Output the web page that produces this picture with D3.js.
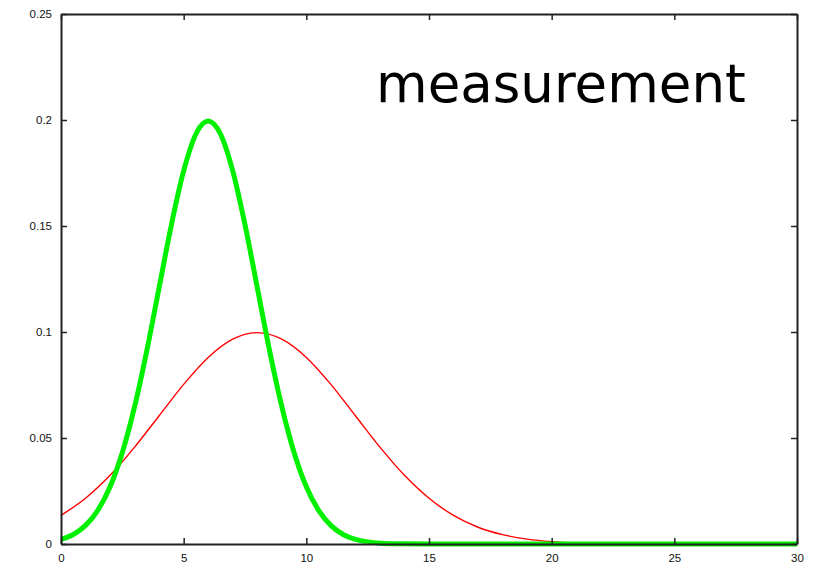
<!DOCTYPE html>
<html>
<head>
<meta charset="utf-8">
<script src="https://cdn.jsdelivr.net/npm/d3@7"></script>
<style>
  body { margin: 0; background: #fff; }
  svg { display: block; }
</style>
</head>
<body>
<svg id="chart"></svg>
<script>
// values
const redX = [0,1,2,3,4,5,6,7,8,9,10,11,12,13,14,15,16,17,18,19,20,21,22,23,24,25,26,27,28,29,30];
const redY = [0.0135,0.0216,0.0324,0.0457,0.0605,0.0753,0.0880,0.0966,0.0997,0.0966,0.0880,0.0753,0.0605,0.0457,0.0324,0.0216,0.0135,0.0079,0.0044,0.0023,0.0011,0.0005,0.0002,0.0001,0,0,0,0,0,0,0];

const greenX = [0,0.5,1,1.5,2,2.5,3,3.5,4,4.5,5,5.5,6,6.5,7,7.5,8,8.5,9,9.5,10,10.5,11,11.5,12,12.5,13,14,15,20,25,30];
const greenY = [0.0022,0.0045,0.0088,0.0159,0.0270,0.0432,0.0648,0.0913,0.1210,0.1506,0.1760,0.1934,0.1995,0.1934,0.1760,0.1506,0.1210,0.0913,0.0648,0.0432,0.0270,0.0159,0.0088,0.0045,0.0022,0.0010,0.0004,0.0001,0,0,0,0];

const xTicks = [0,5,10,15,20,25,30];
const yTicks = [0,0.05,0.1,0.15,0.2,0.25];
const yTickLabels = ["0","0.05","0.1","0.15","0.2","0.25"];
const noteText = "measurement";

const W = 817, H = 568;
const margin = {left: 61, right: 20, top: 14, bottom: 24};
const width = W - margin.left - margin.right;
const height = H - margin.top - margin.bottom;

const svg = d3.select("#chart").attr("width", W).attr("height", H);
const g = svg.append("g").attr("transform", "translate(" + margin.left + "," + margin.top + ")");

const x = d3.scaleLinear().domain([0, 30]).range([0, width]);
const y = d3.scaleLinear().domain([0, 0.25]).range([height, 0]);

// curves
const line = d3.line().x(d => x(d[0])).y(d => y(d[1])).curve(d3.curveMonotoneX);

g.append("path")
  .datum(redX.map((v, i) => [v, redY[i]]))
  .attr("fill", "none").attr("stroke", "#ff0000").attr("stroke-width", 1.4)
  .attr("d", line);

g.append("path")
  .datum(greenX.map((v, i) => [v, greenY[i]]))
  .attr("fill", "none").attr("stroke", "#00f000").attr("stroke-width", 5)
  .attr("stroke-linejoin", "round")
  .attr("d", line);

// frame with inward ticks on all sides
const tickFont = "'Liberation Sans', Arial, sans-serif";
g.append("g").attr("transform", "translate(0," + height + ")")
  .call(d3.axisBottom(x).tickValues(xTicks).tickSizeInner(-6).tickSizeOuter(0).tickPadding(10))
  .call(a => a.selectAll("text").attr("font-family", tickFont).attr("font-size", 11.5).attr("fill", "#111"));
g.append("g")
  .call(d3.axisTop(x).tickValues(xTicks).tickSizeInner(-6).tickSizeOuter(0).tickFormat(""));
g.append("g")
  .call(d3.axisLeft(y).tickValues(yTicks).tickSizeInner(-6).tickSizeOuter(0).tickPadding(9)
    .tickFormat((d, i) => yTickLabels[i]))
  .call(a => a.selectAll("text").attr("font-family", tickFont).attr("font-size", 11.5).attr("fill", "#111"));
g.append("g").attr("transform", "translate(" + width + ",0)")
  .call(d3.axisRight(y).tickValues(yTicks).tickSizeInner(-6).tickSizeOuter(0).tickFormat(""));

g.selectAll(".domain").attr("stroke", "#222").attr("stroke-width", 2);
g.selectAll(".tick line").attr("stroke", "#222").attr("stroke-width", 1.5);

// big annotation
svg.append("text")
  .attr("x", 376).attr("y", 102)
  .attr("font-family", "'DejaVu Sans', Verdana, sans-serif")
  .attr("font-size", 53)
  .attr("fill", "#000")
  .text(noteText);
</script>
</body>
</html>
